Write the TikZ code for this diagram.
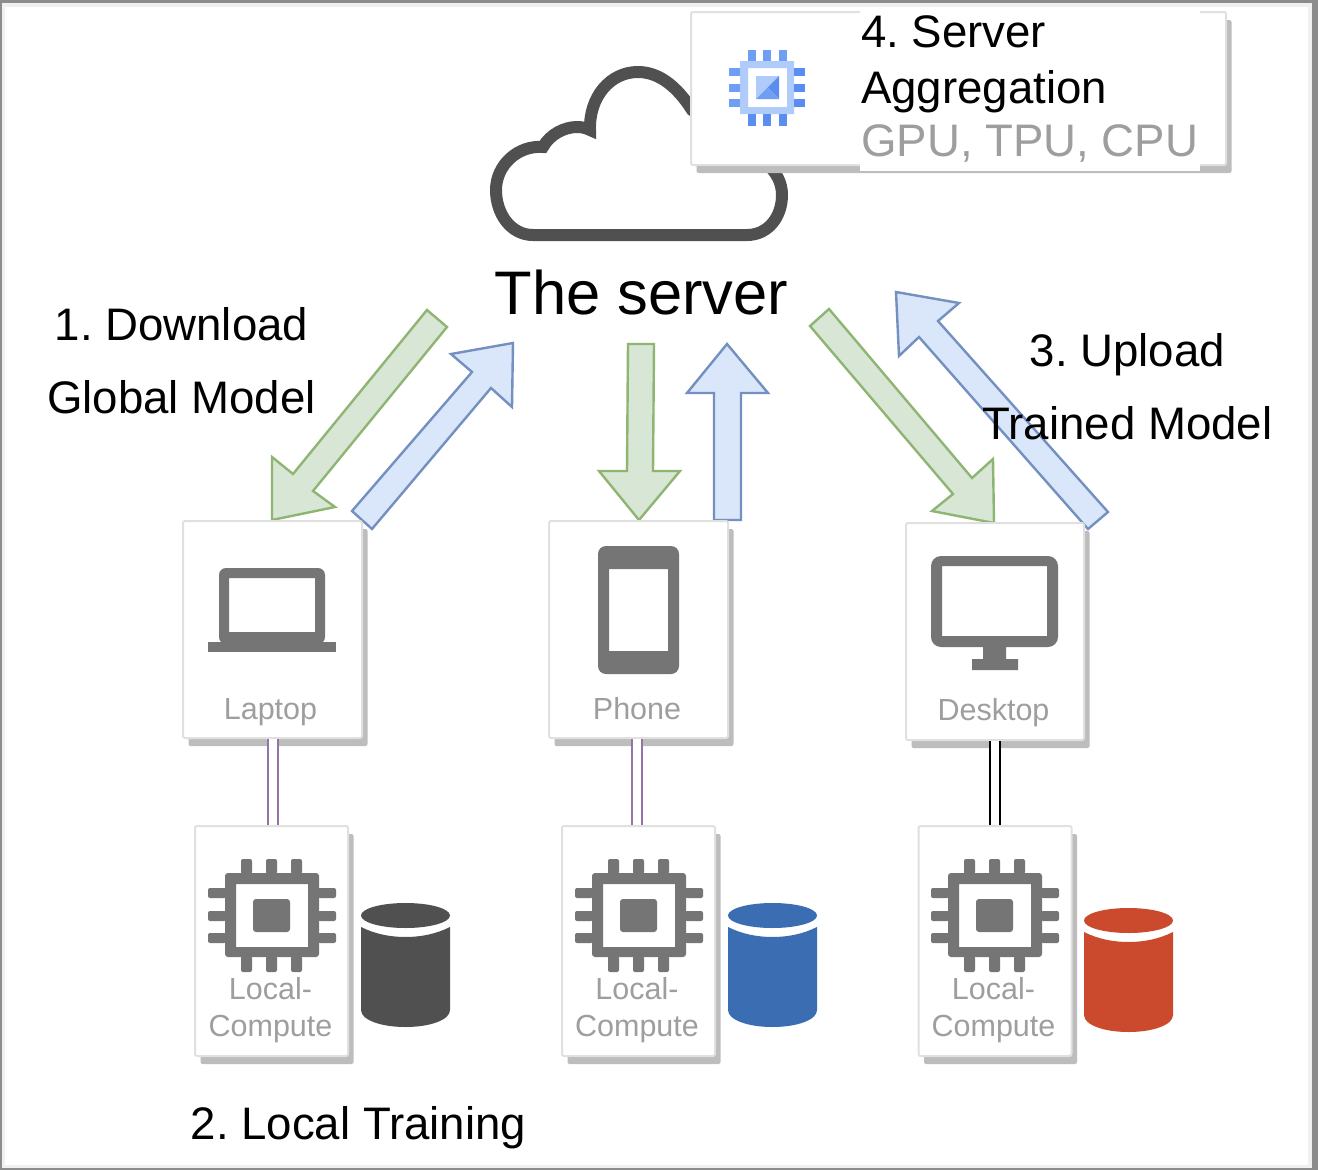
\documentclass[tikz,border=0pt]{standalone}
\usepackage{fontspec}
\setmainfont{Liberation Sans}
\usetikzlibrary{shadows}
\definecolor{iconfill}{HTML}{757575}
\definecolor{cardline}{HTML}{E0E0E0}
\definecolor{cardshadow}{HTML}{BDBDBD}
\definecolor{cardtext}{HTML}{9E9E9E}
\definecolor{cloudline}{HTML}{505050}
\definecolor{greenfill}{HTML}{D8E6D5}
\definecolor{greenline}{HTML}{8FB573}
\definecolor{bluefill}{HTML}{DAE6F9}
\definecolor{blueline}{HTML}{7390C0}
\definecolor{chiplight}{HTML}{AECBFA}
\definecolor{chipmid}{HTML}{6F9EF5}
\definecolor{chipdark}{HTML}{5A8DF0}
\definecolor{linkpurple}{HTML}{9673A6}
\definecolor{dbgray}{HTML}{505050}
\definecolor{dbblue}{HTML}{3A6DB2}
\definecolor{dbred}{HTML}{CB4A2E}
\tikzset{
	card/.style={draw=cardline,fill=white,line width=2pt,rounded corners=2pt,inner sep=0pt,
		drop shadow={shadow xshift=5.5pt,shadow yshift=-8pt,fill=cardshadow,opacity=1}},
	cardlabel/.style={text=cardtext,anchor=base,inner sep=0pt,font=\fontsize{30.5}{37}\selectfont,align=center},
	biglabel/.style={inner sep=0pt,font=\fontsize{45.6}{73}\selectfont,align=center},
	greenarrow/.style={draw=greenline,fill=greenfill,line width=2.4pt,line join=miter},
	bluearrow/.style={draw=blueline,fill=bluefill,line width=2.4pt,line join=miter},
	link/.style={double=white,double distance=8pt,line width=2pt}
}
% gray chip, drawn at the laptop place and shifted by #1
\newcommand{\chipicon}[1]{
	\begin{scope}[shift={(#1,0)}]
		\fill[iconfill,even odd rule] [rounded corners=3] (225,873) rectangle (319,957) [sharp corners] (236,884) rectangle (308,947);
		\fill[iconfill,rounded corners=3] (253,899) rectangle (290,932);
		\foreach \y in {888,911,933} {
			\fill[iconfill,rounded corners=2] (208,\y) rectangle (226,\y+10);
			\fill[iconfill,rounded corners=2] (318,\y) rectangle (336,\y+10);
		}
		\foreach \x in {241,266,291} {
			\fill[iconfill,rounded corners=2] (\x,859) rectangle (\x+11,874);
			\fill[iconfill,rounded corners=2] (\x,956) rectangle (\x+11,972);
		}
	\end{scope}
}
% data cylinder: colour, x shift, y shift
\newcommand{\dbicon}[3]{
	\begin{scope}[shift={(#2,#3)}]
		\fill[#1] (405.5,915.5) ellipse [x radius=44.5,y radius=12.5];
		\fill[#1] (361,927) .. controls (375,934) and (390,937) .. (405.5,937) .. controls (421,937) and (436,934) .. (450,927)
			-- (450,1010) .. controls (450,1020) and (430,1027) .. (405.5,1027) .. controls (381,1027) and (361,1020) .. (361,1010) -- cycle;
	\end{scope}
}
\frenchspacing
\begin{document}
\begin{tikzpicture}[x=1pt,y=-1pt]
	\useasboundingbox (0,0) rectangle (1318,1170);
	% frame
	\fill[gray!90] (0,0) rectangle (1318,1170);
	\fill[black!6] (2,3) rectangle (1312,1168);
	\fill[white] (5,7) rectangle (1308,1165);

	% cloud
	\draw[cloudline,line width=12pt,line join=miter] (533,235) .. controls (511,235) and (496,214) .. (496,190)
		.. controls (496,165) and (518,145) .. (543,147)
		.. controls (550,134) and (565,127) .. (577,127) .. controls (582,127) and (586,128) .. (590,130)
		.. controls (589,97) and (610,72) .. (638,72) .. controls (660,72) and (678,88) .. (692,110)
		-- (766,163) .. controls (776,172) and (782,182) .. (782,195)
		.. controls (782,217) and (768,235) .. (747,235) -- cycle;

	% server box
	\node[card,minimum width=535pt,minimum height=153pt] (serverbox) at (958.5,88.5) {};
	\fill[chiplight,even odd rule] (740,61) rectangle (794,114) (748,68) rectangle (787,107);
	\foreach \y in {68,84,99} {
		\fill[chipmid] (729,\y) rectangle (740,\y+8);
		\fill[chipdark] (794,\y) rectangle (805,\y+8);
	}
	\foreach \x in {748,763,779} {
		\fill[chipmid] (\x,50) rectangle (\x+8,61);
		\fill[chipdark] (\x,114) rectangle (\x+8,126);
	}
	\fill[chiplight] (756,99) -- (756,76) -- (779,76) -- cycle;
	\fill[chipdark] (779,76) -- (779,99) -- (767.5,87.5) -- cycle;
	\fill[chipmid] (756,99) -- (779,99) -- (767.5,87.5) -- cycle;
	\node[fill=white,inner sep=0pt,anchor=north west,minimum width=340pt,minimum height=164pt] (servercover) at (860,7) {};
	\node[inner sep=0pt,anchor=base west] (aggtitle) at (861,47) {\fontsize{45.6}{46}\selectfont 4. Server};
	\node[inner sep=0pt,anchor=base west] (aggname) at (861,103) {\fontsize{45.6}{46}\selectfont Aggregation};
	\node[inner sep=0pt,anchor=base west,text=cardtext] (aggsub) at (861,156) {\fontsize{45.6}{46}\selectfont GPU, TPU, CPU};

	\node[inner sep=0pt,anchor=base] (server) at (641.5,314) {\fontsize{61.5}{61.5}\selectfont The server};

	% arrows
	\draw[greenarrow] (427,310) -- (447,327) -- (313,491) -- (335,507) -- (272,520) -- (272,457) -- (293,474) -- cycle;
	\draw[bluearrow] (352,511) -- (372,529) -- (491,388) -- (512,407) -- (513,343) -- (451,354) -- (472,372) -- cycle;
	\draw[greenarrow] (628,344) -- (654,344) -- (653,471) -- (680,471) -- (639,520) -- (599,471) -- (627,471) -- cycle;
	\draw[bluearrow] (714,520) -- (741,520) -- (741,393) -- (768,393) -- (727,344) -- (687,393) -- (714,393) -- cycle;
	\draw[greenarrow] (810,326) -- (829,309) -- (972,478) -- (993,459) -- (994,523) -- (932,511) -- (953,494) -- cycle;
	\draw[bluearrow] (1108,512) -- (1088,529) -- (919,337) -- (899,356) -- (896,292) -- (959,303) -- (938,321) -- cycle;

	% device cards
	\node[card,minimum width=179pt,minimum height=217pt] (laptop) at (272.5,629.5) {};
	\node[card,minimum width=179pt,minimum height=217pt] (phone) at (638.5,629.5) {};
	\node[card,minimum width=178pt,minimum height=217pt] (desktop) at (995,631.5) {};
	\fill[iconfill,even odd rule] [rounded corners=7] (219,568) rectangle (325,644) [sharp corners] (229,578) rectangle (315,632);
	\fill[iconfill] (208,642) rectangle (336,652);
	\fill[iconfill,even odd rule] [rounded corners=8] (598,546) rectangle (679,674) [sharp corners] (609,569) rectangle (668,651);
	\fill[iconfill,even odd rule] [rounded corners=10] (931,556) rectangle (1058,647) [sharp corners] (942,566) rectangle (1047,636);
	\fill[iconfill] (983,646) rectangle (1006,660) (972,659) rectangle (1018,670);
	\node[cardlabel] (laptoplabel) at (270.5,719) {Laptop};
	\node[cardlabel] (phonelabel) at (637,719) {Phone};
	\node[cardlabel] (desktoplabel) at (993.5,720) {Desktop};

	% compute cards
	\node[card,minimum width=153pt,minimum height=230pt] (laptopcpu) at (271.5,941) {};
	\node[card,minimum width=153pt,minimum height=230pt] (phonecpu) at (638.5,941) {};
	\node[card,minimum width=153pt,minimum height=230pt] (desktopcpu) at (995,941) {};
	\chipicon{0}
	\chipicon{367}
	\chipicon{723}
	\node[cardlabel,anchor=center] (laptopcpulabel) at (270.5,1010) {Local-\\Compute};
	\node[cardlabel,anchor=center] (phonecpulabel) at (637,1010) {Local-\\Compute};
	\node[cardlabel,anchor=center] (desktopcpulabel) at (993.5,1010) {Local-\\Compute};
	\dbicon{dbgray}{0}{0}
	\dbicon{dbblue}{367}{0}
	\dbicon{dbred}{723}{5}

	% links
	\draw[link,draw=linkpurple] (laptop.south) -- (laptop.south |- laptopcpu.north);
	\draw[link,draw=linkpurple] ([xshift=-1.5pt]phone.south) -- ([xshift=-1.5pt]phone.south |- phonecpu.north);
	\draw[link,draw=black] (desktop.south) -- (desktop.south |- desktopcpu.north);

	% step labels
	\node[biglabel] (steponelabel) at (181.5,361) {1. Download\\Global Model};
	\node[biglabel] (stepthreelabel) at (1127.5,386.5) {3. Upload\\Trained Model};
	\node[inner sep=0pt,anchor=base] (steptwolabel) at (358.5,1139) {\fontsize{45.6}{46}\selectfont 2. Local Training};
\end{tikzpicture}
\end{document}
